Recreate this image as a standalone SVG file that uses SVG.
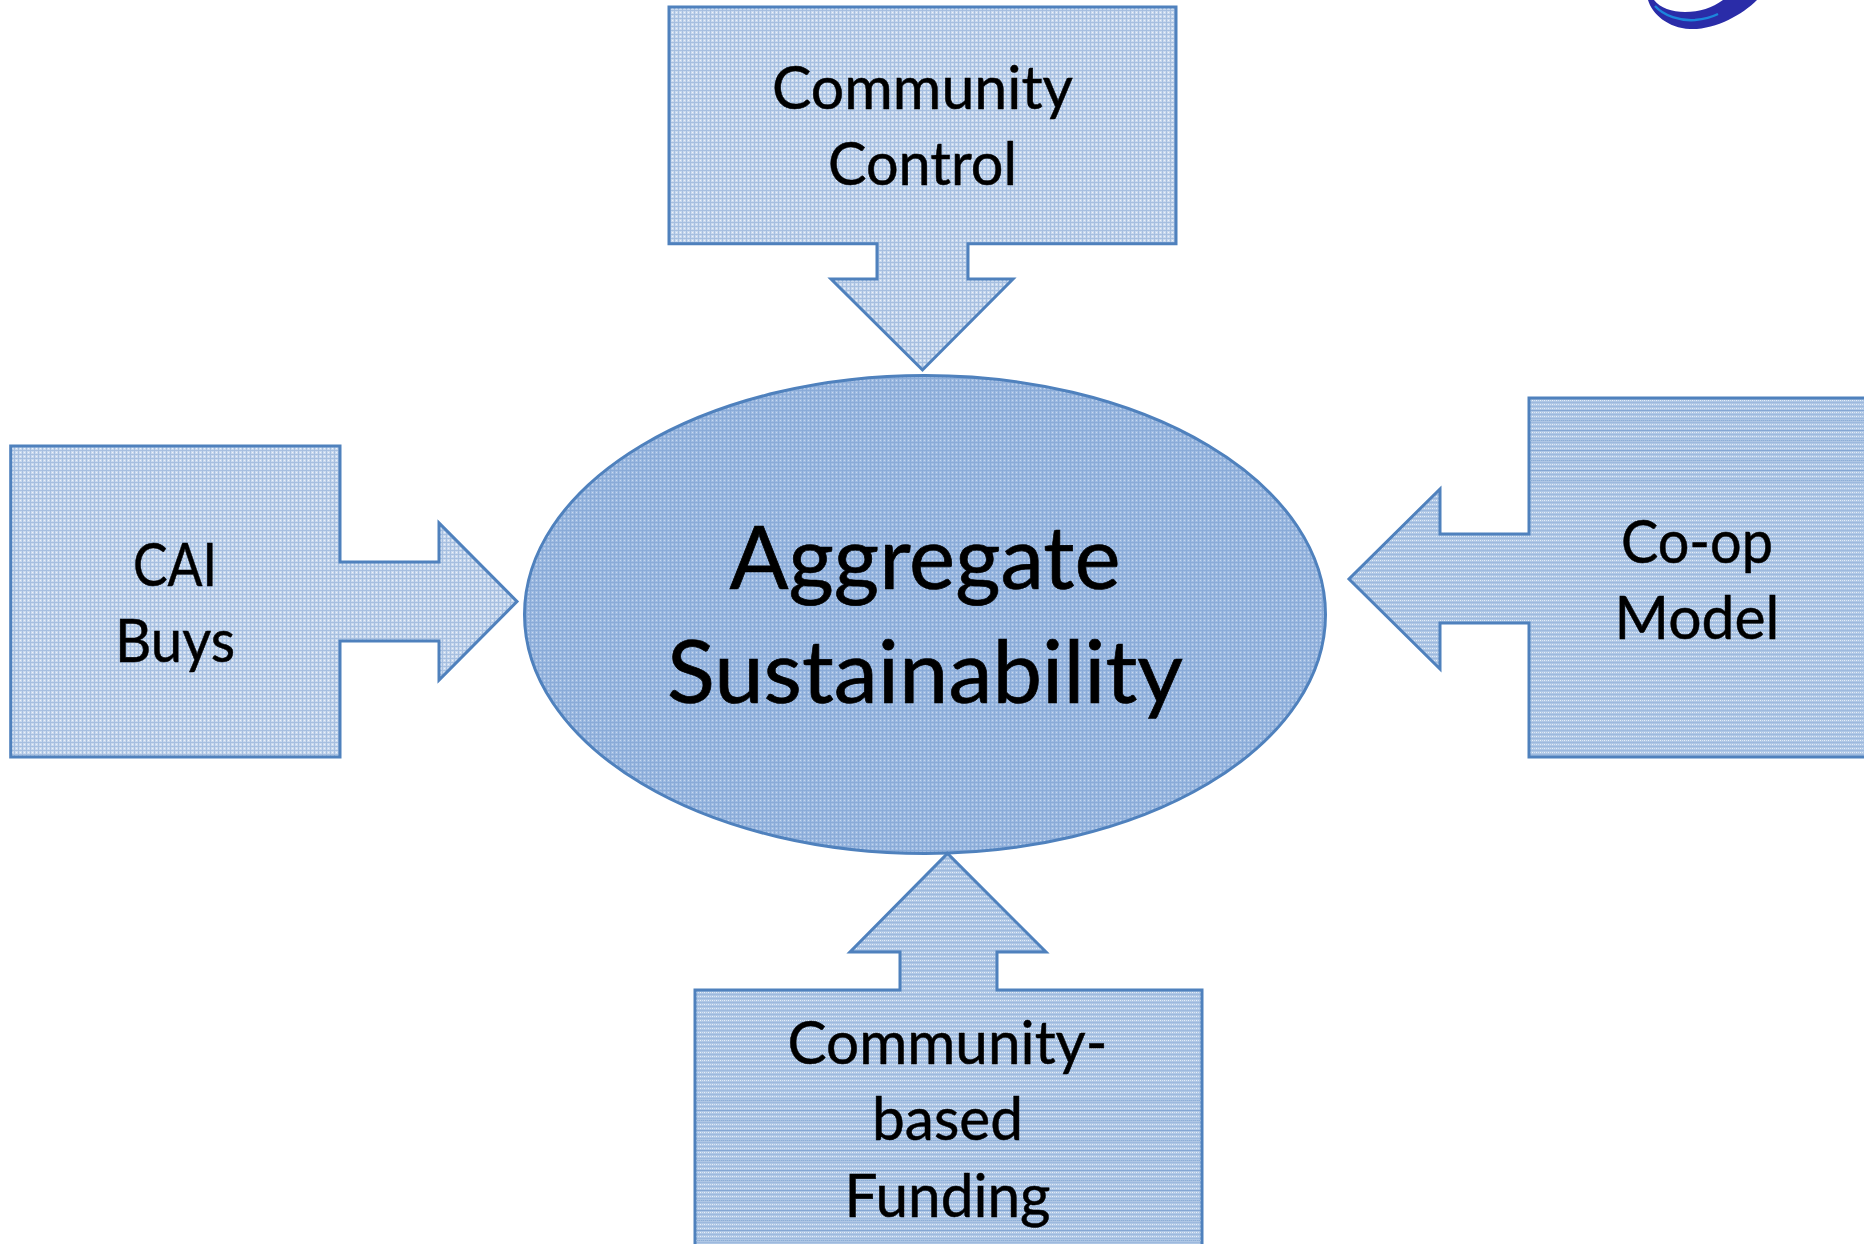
<svg xmlns="http://www.w3.org/2000/svg" width="1864" height="1244" viewBox="0 0 1864 1244">
<style>
.s{fill:url(#lt);stroke:#4f81bd;stroke-width:3;stroke-linejoin:miter}
.r{fill:url(#md);stroke:#4f81bd;stroke-width:3;stroke-linejoin:miter}
.t{font-family:"Lato","Liberation Sans",sans-serif;fill:#000;stroke:#000;stroke-width:.5px;text-anchor:middle;font-size:60px}
.b{font-size:88px;stroke-width:.7px}
</style>
<defs>
<pattern id="lt" width="4" height="4" patternUnits="userSpaceOnUse"><rect width="4" height="4" fill="#c9d9ee"/><rect y="2" width="4" height="1" fill="#a6bfe0"/><rect x="2" width="1" height="4" fill="#a6bfe0"/><rect width="1" height="1" fill="#edf3fa"/></pattern>
<pattern id="md" width="4" height="4" patternUnits="userSpaceOnUse"><rect width="4" height="4" fill="#afc7e5"/><rect y="2" width="4" height="1" fill="#9db9de"/><rect width="1" height="1" fill="#eaf1f9"/><rect x="2" y="0" width="1" height="1" fill="#d8e4f3"/></pattern>
<pattern id="dk" width="4" height="4" patternUnits="userSpaceOnUse"><rect width="4" height="4" fill="#a0bce2"/><rect y="2" width="4" height="1" fill="#8aabd8"/><rect x="2" width="1" height="4" fill="#8aabd8"/><rect width="1" height="1" fill="#c8d9f0"/></pattern>
<pattern id="bands" width="10" height="10" patternUnits="userSpaceOnUse"><rect width="10" height="1" fill="#6f96ca" opacity=".55"/></pattern>
</defs>
<rect width="1864" height="1244" fill="#fff"/>
<g id="logo"><path d="M1648,0C1652,14 1668,28 1690,29C1715,30 1742,15 1757,0L1723,0C1712,8 1700,12 1685,12C1672,12 1660,8 1654,0Z" fill="#2a2ca8"/><path d="M1655,6C1664,16 1680,21 1695,20C1705,19 1712,17 1718,14" fill="none" stroke="#1c86dc" stroke-width="2.500"/></g>
<g id="connectors"></g>
<g id="center"><ellipse cx="925" cy="614.5" rx="400.5" ry="239" fill="url(#dk)" stroke="#4f81bd" stroke-width="3"/><text class="t b" x="925" y="589" textLength="391" lengthAdjust="spacingAndGlyphs">Aggregate</text><text class="t b" x="925" y="703" textLength="516" lengthAdjust="spacingAndGlyphs">Sustainability</text></g>
<g id="community-control"><path class="s" d="M669,7H1176V243.700H968V279H1013L922.500,370L831,279H877V243.700H669Z"/><text class="t" x="922.500" y="109" textLength="301" lengthAdjust="spacingAndGlyphs">Community</text><text class="t" x="922.500" y="185" textLength="189" lengthAdjust="spacingAndGlyphs">Control</text></g>
<g id="cai-buys"><path class="s" d="M10.700,446H340V562H439V523L517,601.500L439,680V641H340V757H10.700Z"/><text class="t" x="175" y="586" textLength="84" lengthAdjust="spacingAndGlyphs">CAI</text><text class="t" x="175" y="662" textLength="120" lengthAdjust="spacingAndGlyphs">Buys</text></g>
<g id="coop-model"><path class="r" d="M1529,398H1866V757H1529V623H1440V669L1349,579L1440,489V534H1529Z"/><rect x="1531" y="410" width="333" height="80" fill="url(#bands)"/><text class="t" x="1697" y="563" textLength="152" lengthAdjust="spacingAndGlyphs">Co-op</text><text class="t" x="1697" y="639" textLength="165" lengthAdjust="spacingAndGlyphs">Model</text></g>
<g id="community-funding"><path class="r" d="M695,1246V990H900V952H850L947.500,853.500L1046,952H997V990H1202V1246Z"/><rect x="697" y="1100" width="503" height="144" fill="url(#bands)"/><text class="t" x="947.500" y="1064" textLength="320" lengthAdjust="spacingAndGlyphs">Community-</text><text class="t" x="947.500" y="1140" textLength="151" lengthAdjust="spacingAndGlyphs">based</text><text class="t" x="947.500" y="1217" textLength="206" lengthAdjust="spacingAndGlyphs">Funding</text></g>
</svg>
